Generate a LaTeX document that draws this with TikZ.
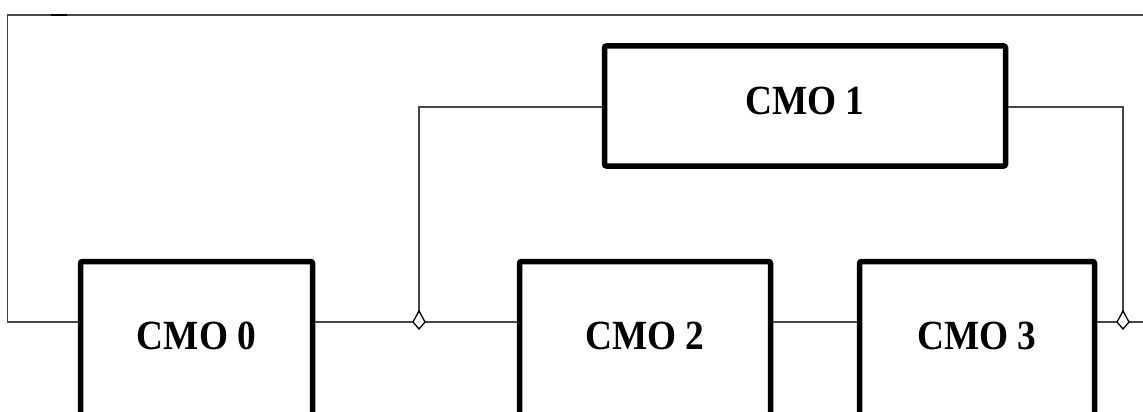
\documentclass[tikz,border=0pt]{standalone}
\usepackage{fontspec}
\usetikzlibrary{calc}
\newfontfamily\cmofont[FakeStretch=0.9]{Liberation Serif}
\begin{document}
\begin{tikzpicture}[x=1pt,y=-1pt,
  cmo/.style={draw=black, line width=5.5pt, rounded corners=2pt, fill=white, inner sep=0pt},
  lbl/.style={font=\cmofont\fontsize{41.5}{41.5}\selectfont\bfseries, inner sep=0pt},
  wire/.style={draw=black!72, line width=1.3pt},
  kite/.style={draw=black, line width=1.3pt, fill=white, line join=miter}]
\useasboundingbox (0,0) rectangle (1143,412);
\begin{scope}
\clip (0,0) rectangle (1143,412);
% named points
\coordinate (bus) at (0,322);
\coordinate (topL) at (7.5,15);
\coordinate (topR) at (1143,15);
\coordinate (busL) at (7.5,322);
\coordinate (busR) at (1143,322);
\coordinate (d1) at (419,322);
\coordinate (d2) at (1123,322);
% boxes (bottom edges run below the picture)
\node[cmo, minimum width=232, minimum height=170] (c0) at (196.5,346.5) {};
\node[cmo, minimum width=251, minimum height=170] (c2) at (645,346.5) {};
\node[cmo, minimum width=235, minimum height=170] (c3) at (977,346.5) {};
\node[cmo, minimum width=401, minimum height=120] (c1) at (805,106) {};
% wires
\draw[wire] (topR) -- (topL) -- (busL) -- (c0.west |- bus);
\draw[wire] (c0.east |- bus) -- (d1) -- (c2.west |- bus);
\draw[wire] (c2.east |- bus) -- (c3.west |- bus);
\draw[wire] (c3.east |- bus) -- (d2) -- (busR);
\draw[wire] (c1.west |- 0,107) -| (d1);
\draw[wire] (c1.east |- 0,107) -| (d2);
\draw[black, line width=2pt] (51,15) -- (67,15);
% junction kites
\foreach \d in {d1,d2}
  \draw[kite] ($(\d)+(0,-11)$) -- ($(\d)+(6,0)$) -- ($(\d)+(0,7)$) -- ($(\d)+(-6,0)$) -- cycle;
% labels
\node[lbl] (t0) at (196.5,336) {CMO 0};
\node[lbl] (t2) at (645,336) {CMO 2};
\node[lbl] (t3) at (977,336) {CMO 3};
\node[lbl] (t1) at (805,101) {CMO 1};
\end{scope}
\end{tikzpicture}
\end{document}
